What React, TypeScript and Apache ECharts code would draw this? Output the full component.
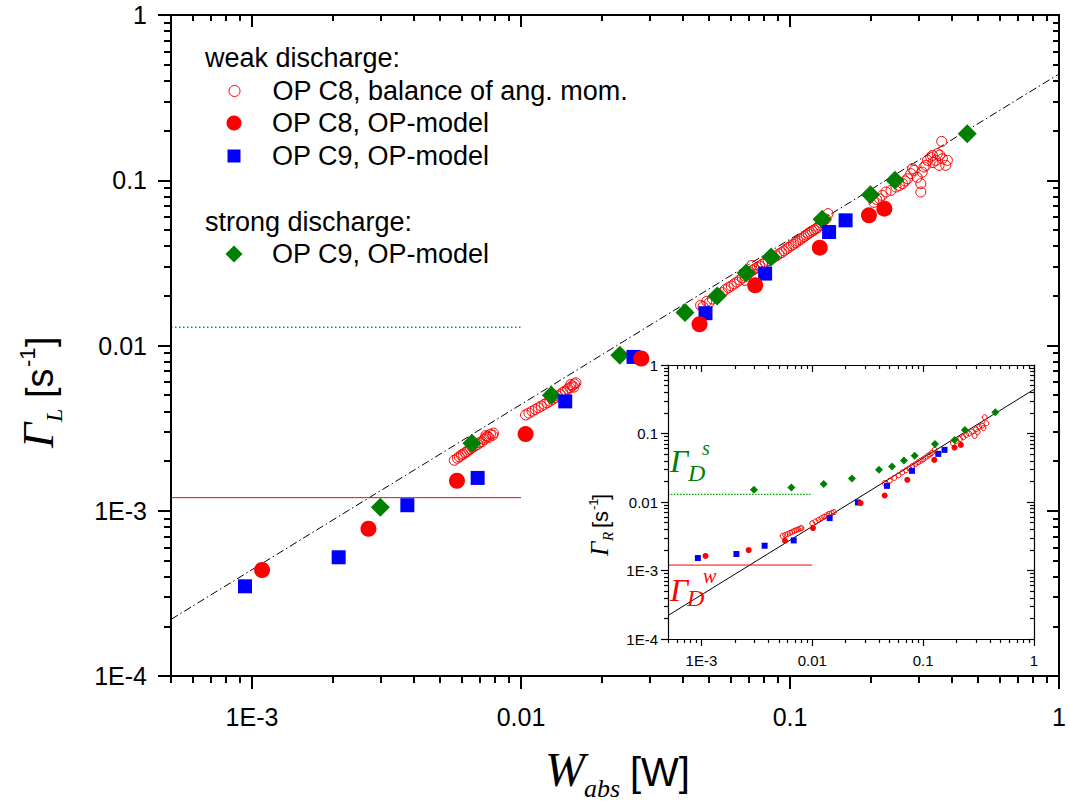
import React, { useEffect, useRef } from "react";
import * as echarts from "echarts";

const SANS = "'Liberation Sans', Arial, Helvetica, sans-serif";
const SERIF = "'Liberation Serif', 'Times New Roman', serif";

// ---------- axes ----------
const xRange = [5e-4, 1];
const yRange = [1e-4, 1];
const xMajor = [0.001, 0.01, 0.1, 1];
const xMajorLabels = ["1E-3", "0.01", "0.1", "1"];
const yMajor = [1e-4, 0.001, 0.01, 0.1, 1];
const yMajorLabels = ["1E-4", "1E-3", "0.01", "0.1", "1"];
const xMinor = [5e-4, 6e-4, 7e-4, 8e-4, 9e-4, 0.002, 0.003, 0.004, 0.005, 0.006, 0.007, 0.008, 0.009,
  0.02, 0.03, 0.04, 0.05, 0.06, 0.07, 0.08, 0.09, 0.2, 0.3, 0.4, 0.5, 0.6, 0.7, 0.8, 0.9];
const yMinor = [2e-4, 3e-4, 4e-4, 5e-4, 6e-4, 7e-4, 8e-4, 9e-4, 0.002, 0.003, 0.004, 0.005, 0.006, 0.007, 0.008, 0.009,
  0.02, 0.03, 0.04, 0.05, 0.06, 0.07, 0.08, 0.09, 0.2, 0.3, 0.4, 0.5, 0.6, 0.7, 0.8, 0.9];

// ---------- reference lines ----------
const fitLine: [number, number][] = [[5e-4, 2.2e-4], [1, 0.44]];
const gammaDStrong: [number, number][] = [[5e-4, 0.0129], [0.01, 0.0129]];
const gammaDWeak: [number, number][] = [[5e-4, 1.2e-3], [0.01, 1.2e-3]];

// ---------- main plot data (Gamma_L) ----------
const c8OpModelMain: [number, number][] = [
  [1.09e-3, 4.38e-4], [2.71e-3, 7.78e-4], [5.78e-3, 1.52e-3], [0.0104, 2.91e-3], [0.028, 8.34e-3],
  [0.0461, 0.01345], [0.0742, 0.02315], [0.129, 0.0391], [0.1965, 0.0613], [0.2242, 0.0673],
];
const c9WeakMain: [number, number][] = [
  [9.42e-4, 3.49e-4], [2.1e-3, 5.23e-4], [3.78e-3, 1.08e-3], [6.9e-3, 1.58e-3], [0.0146, 4.59e-3],
  [0.0262, 8.53e-3], [0.0485, 0.01568], [0.0808, 0.02724], [0.1397, 0.0486], [0.1609, 0.0572],
];
const c9StrongMain: [number, number][] = [
  [3.0e-3, 1.05e-3], [6.57e-3, 2.56e-3], [0.01297, 5.0e-3], [0.0233, 8.74e-3], [0.0407, 0.01583],
  [0.0536, 0.01995], [0.0687, 0.0275], [0.085, 0.0343], [0.1316, 0.058], [0.199, 0.0818],
  [0.2455, 0.0999], [0.4558, 0.1913],
];
const c8BalanceMain: [number, number][] = [
  [5.65e-3, 2.02e-3], [5.8e-3, 2.08e-3], [5.9e-3, 2.12e-3], [6.0e-3, 2.17e-3], [6.1e-3, 2.2e-3],
  [6.2e-3, 2.25e-3], [6.3e-3, 2.28e-3], [6.4e-3, 2.33e-3], [6.5e-3, 2.37e-3], [6.6e-3, 2.42e-3],
  [6.75e-3, 2.47e-3], [6.9e-3, 2.52e-3], [7.0e-3, 2.58e-3], [7.15e-3, 2.62e-3], [7.3e-3, 2.7e-3],
  [7.4e-3, 2.76e-3], [7.5e-3, 2.82e-3], [7.6e-3, 2.78e-3], [7.7e-3, 2.9e-3], [7.85e-3, 2.86e-3],
  [7.9e-3, 2.95e-3], [7.4e-3, 2.85e-3],
  [0.0104, 3.8e-3], [0.0107, 3.9e-3], [0.011, 4.0e-3], [0.0113, 4.1e-3], [0.0116, 4.2e-3],
  [0.0119, 4.3e-3], [0.0122, 4.4e-3], [0.0125, 4.5e-3], [0.0128, 4.6e-3], [0.0131, 4.72e-3],
  [0.0134, 4.83e-3], [0.0137, 4.95e-3], [0.014, 5.05e-3], [0.0143, 5.2e-3], [0.0146, 5.3e-3],
  [0.0149, 5.45e-3], [0.0152, 5.55e-3], [0.0155, 5.7e-3], [0.0158, 5.85e-3], [0.0153, 5.8e-3],
  [0.0157, 5.6e-3], [0.016, 5.95e-3],
  [0.0465, 0.0175], [0.0475, 0.0172], [0.049, 0.0185], [0.05, 0.0181], [0.0515, 0.0191],
  [0.053, 0.0196], [0.0545, 0.0203], [0.056, 0.0209], [0.0575, 0.0218], [0.059, 0.0224],
  [0.0605, 0.0229], [0.062, 0.0236], [0.0635, 0.0242], [0.065, 0.0249], [0.0665, 0.0257],
  [0.068, 0.0264], [0.0695, 0.0271], [0.071, 0.0278], [0.0725, 0.0285], [0.074, 0.0291],
  [0.0755, 0.0297], [0.077, 0.0303], [0.079, 0.0311], [0.081, 0.0318], [0.083, 0.0326],
  [0.085, 0.0332], [0.087, 0.0341], [0.089, 0.0349], [0.091, 0.0358], [0.093, 0.0365],
  [0.095, 0.0374], [0.097, 0.0384], [0.099, 0.0393], [0.101, 0.0401], [0.103, 0.041],
  [0.105, 0.0419], [0.107, 0.0428], [0.109, 0.0437], [0.111, 0.0447], [0.113, 0.0456],
  [0.115, 0.0466], [0.117, 0.0476], [0.119, 0.0484], [0.121, 0.0492], [0.123, 0.0501],
  [0.125, 0.0509], [0.127, 0.0518], [0.129, 0.0535], [0.131, 0.0551], [0.133, 0.0569],
  [0.136, 0.0582], [0.1385, 0.0628], [0.0745, 0.0268], [0.068, 0.0248], [0.072, 0.0305],
  [0.205, 0.0735], [0.21, 0.0765], [0.2149, 0.0774], [0.22, 0.081], [0.2274, 0.0849],
  [0.2373, 0.0869], [0.2476, 0.091], [0.255, 0.093], [0.2621, 0.0954], [0.2735, 0.1022],
  [0.2813, 0.1096], [0.2893, 0.1148], [0.2854, 0.1175], [0.3063, 0.0954], [0.3063, 0.0849],
  [0.3149, 0.1202], [0.3243, 0.132], [0.3383, 0.1414], [0.3479, 0.132], [0.3579, 0.1231],
  [0.3684, 0.135], [0.3789, 0.1231], [0.3845, 0.132], [0.3662, 0.1718], [0.3335, 0.1381],
  [0.353, 0.1448], [0.3197, 0.1231], [0.297, 0.104], [0.268, 0.099], [0.31, 0.112],
  [0.34, 0.128], [0.36, 0.142],
];

// ---------- inset data (Gamma_R) ----------
const c8OpModelInset: [number, number][] = [
  [1.09e-3, 1.63e-3], [2.67e-3, 1.99e-3], [5.68e-3, 2.72e-3], [0.01015, 4.16e-3], [0.0273, 9.64e-3],
  [0.045, 0.01244], [0.072, 0.02107], [0.126, 0.0412], [0.192, 0.0623], [0.219, 0.0682],
];
const c9WeakInset: [number, number][] = [
  [9.3e-4, 1.52e-3], [2.07e-3, 1.74e-3], [3.72e-3, 2.3e-3], [6.8e-3, 2.75e-3], [0.01435, 5.82e-3],
  [0.0258, 9.84e-3], [0.0472, 0.01722], [0.0793, 0.0285], [0.137, 0.0504], [0.156, 0.0577],
];
const c9StrongInset: [number, number][] = [
  [2.98e-3, 0.01506], [6.48e-3, 0.01627], [0.01268, 0.01824], [0.0228, 0.022], [0.04, 0.02947],
  [0.0524, 0.0329], [0.0671, 0.0403], [0.0839, 0.0472], [0.1278, 0.0705], [0.192, 0.0807],
  [0.238, 0.1128], [0.448, 0.2044],
];
const c8BalanceInset: [number, number][] = [
  [5.4e-3, 3.2e-3], [5.7e-3, 3.3e-3], [6.0e-3, 3.4e-3], [6.3e-3, 3.55e-3], [6.6e-3, 3.65e-3],
  [6.9e-3, 3.8e-3], [7.2e-3, 3.9e-3], [7.5e-3, 4.0e-3], [7.8e-3, 4.1e-3], [8.0e-3, 4.16e-3],
  [0.01, 4.9e-3], [0.0107, 5.2e-3], [0.0114, 5.5e-3], [0.0121, 5.8e-3], [0.0128, 6.1e-3],
  [0.0135, 6.4e-3], [0.0142, 6.7e-3], [0.015, 6.95e-3], [0.0157, 7.1e-3],
  [0.045, 0.0189], [0.05, 0.0205], [0.055, 0.0225], [0.06, 0.0245], [0.065, 0.027], [0.07, 0.029],
  [0.075, 0.031], [0.08, 0.0335], [0.085, 0.0355], [0.09, 0.038], [0.095, 0.04], [0.1, 0.042],
  [0.105, 0.0445], [0.11, 0.047], [0.115, 0.0495], [0.12, 0.052], [0.127, 0.0577],
  [0.186, 0.0722], [0.2, 0.078], [0.215, 0.083], [0.23, 0.088], [0.245, 0.095], [0.26, 0.1],
  [0.275, 0.107], [0.2914, 0.0923], [0.3, 0.115], [0.32, 0.125], [0.34, 0.13], [0.359, 0.173],
  [0.372, 0.141], [0.35, 0.12], [0.31, 0.105],
];

// ---------- legend ----------
const legendLabels: Record<string, string> = {
  wC8bal: "OP C8, balance of ang. mom.",
  wC8op: "OP C8, OP-model",
  wC9op: "OP C9, OP-model",
  sC9op: "OP C9, OP-model",
};

const RED = "#ff0000";
const BLUE = "#0000ff";
const GREEN = "#008000";
const DOT_GREEN = "#00a800";

function labelFmt(values: number[], texts: string[]) {
  return (v: number) => {
    let best = 0;
    let bd = Infinity;
    values.forEach((t, i) => {
      const d = Math.abs(Math.log10(v) - Math.log10(t));
      if (d < bd) { bd = d; best = i; }
    });
    return texts[best];
  };
}

function axis(gridIndex: number, position: string, range: number[], ticks: number[], tickLen: number,
  inside: boolean, lineW: number, showLine: boolean,
  label: null | { values: number[]; texts: string[]; size: number; margin: number }) {
  return {
    type: "log",
    logBase: 10,
    gridIndex,
    position,
    min: range[0],
    max: range[1],
    axisLine: { show: showLine, onZero: false, lineStyle: { color: "#000", width: lineW } },
    axisTick: { show: true, inside, length: tickLen, customValues: ticks, lineStyle: { color: "#000", width: lineW } },
    axisLabel: label
      ? { show: true, customValues: label.values, formatter: labelFmt(label.values, label.texts), fontSize: label.size, fontFamily: SANS, color: "#000", margin: label.margin }
      : { show: false },
    splitLine: { show: false },
    minorTick: { show: false },
    z: 10,
  };
}

// text placed by its baseline
function bt(text: string, x: number, baseline: number, size: number, o: any = {}) {
  const serif = !!o.serif;
  return {
    type: "text",
    x,
    y: baseline - (serif ? 0.34 : 0.35) * size,
    z: 100,
    style: {
      text,
      fontSize: size,
      fontFamily: serif ? SERIF : SANS,
      fontStyle: o.italic ? "italic" : "normal",
      fill: o.color || "#000",
      align: "left",
      verticalAlign: "middle",
    },
  };
}

export default function App() {
  const ref = useRef<HTMLDivElement>(null);
  useEffect(() => {
    if (!ref.current) return;
    const chart = echarts.init(ref.current, null, { renderer: "svg" });

    const mainLbl = 25;
    const insetLbl = 15;

    const xAxis = [
      axis(0, "bottom", xRange, xMajor, 13, false, 2, true, { values: xMajor, texts: xMajorLabels, size: mainLbl, margin: 28 }),
      axis(0, "bottom", xRange, xMinor, 7, false, 2, false, null),
      axis(0, "top", xRange, xMajor, 12, true, 2, true, null),
      axis(0, "top", xRange, xMinor, 6, true, 2, false, null),
      axis(1, "bottom", xRange, xMajor, 7, false, 1.2, true, { values: xMajor, texts: xMajorLabels, size: insetLbl, margin: 14 }),
      axis(1, "bottom", xRange, xMinor, 4, false, 1.2, false, null),
      axis(1, "top", xRange, xMajor, 7, true, 1.2, true, null),
      axis(1, "top", xRange, xMinor, 4, true, 1.2, false, null),
    ];
    const yAxis = [
      axis(0, "left", yRange, yMajor, 13, false, 2, true, { values: yMajor, texts: yMajorLabels, size: mainLbl, margin: 24 }),
      axis(0, "left", yRange, yMinor, 7, false, 2, false, null),
      axis(0, "right", yRange, yMajor, 12, true, 2, true, null),
      axis(0, "right", yRange, yMinor, 6, true, 2, false, null),
      axis(1, "left", yRange, yMajor, 7, false, 1.2, true, { values: yMajor, texts: yMajorLabels, size: insetLbl, margin: 10 }),
      axis(1, "left", yRange, yMinor, 4, false, 1.2, false, null),
      axis(1, "right", yRange, yMajor, 7, true, 1.2, true, null),
      axis(1, "right", yRange, yMinor, 4, true, 1.2, false, null),
    ];

    const line = (data: [number, number][], ax: number, color: string, width: number, type: any, z: number) => ({
      type: "line", data, xAxisIndex: ax, yAxisIndex: ax, symbol: "none", showSymbol: false, silent: true,
      lineStyle: { color, width, type, opacity: 1 }, z,
    });
    const scatter = (name: string, data: [number, number][], ax: number, symbol: string, size: number, itemStyle: any, z: number) => ({
      name, type: "scatter", data, xAxisIndex: ax, yAxisIndex: ax, symbol, symbolSize: size,
      itemStyle: { opacity: 1, ...itemStyle }, z, silent: true,
    });
    const open = { color: "rgba(255,255,255,0)", borderColor: RED, borderWidth: 1 };

    const series = [
      line(fitLine, 0, "#000", 1, [8, 3, 1.5, 3], 2),
      line(gammaDStrong, 0, DOT_GREEN, 1.3, [1.5, 2.5], 2),
      line(gammaDWeak, 0, RED, 1, "solid", 2),
      scatter("wC8bal", c8BalanceMain, 0, "circle", 10, open, 3),
      scatter("sC9op", c9StrongMain, 0, "diamond", 19, { color: GREEN }, 4),
      scatter("wC9op", c9WeakMain, 0, "rect", 14, { color: BLUE }, 5),
      scatter("wC8op", c8OpModelMain, 0, "circle", 16, { color: RED }, 6),
      line(fitLine, 4, "#000", 1, "solid", 2),
      line(gammaDStrong, 4, DOT_GREEN, 1.2, [1.5, 1.5], 2),
      line(gammaDWeak, 4, RED, 1, "solid", 2),
      scatter("iC8bal", c8BalanceInset, 4, "circle", 5, open, 3),
      scatter("iC9s", c9StrongInset, 4, "diamond", 8, { color: GREEN }, 4),
      scatter("iC9w", c9WeakInset, 4, "rect", 6, { color: BLUE }, 5),
      scatter("iC8op", c8OpModelInset, 4, "circle", 6, { color: RED }, 6),
    ];

    const legendFont = 27;
    const mkLegend = (name: string, cy: number, s: number, extra: any = {}) => ({
      data: [name],
      orient: "horizontal",
      left: 234 - s / 2,
      top: cy - legendFont / 2,
      itemWidth: s,
      itemHeight: s,
      padding: 0,
      selectedMode: false,
      formatter: (n: string) => legendLabels[n],
      textStyle: { fontSize: legendFont, fontFamily: SANS, color: "#000", padding: [0, 0, 0, 33 - s / 2] },
      ...extra,
    });

    const legend = [
      mkLegend("wC8bal", 91, 11, { itemStyle: { borderWidth: 1, borderColor: RED, color: "rgba(255,255,255,0)" } }),
      mkLegend("wC8op", 123, 15, { itemStyle: { opacity: 1 } }),
      mkLegend("wC9op", 156, 13, { itemStyle: { opacity: 1 } }),
      mkLegend("sC9op", 254, 17, { itemStyle: { opacity: 1 } }),
    ];

    const graphic = [
      bt("weak discharge:", 205, 67, 27),
      bt("strong discharge:", 205, 231, 27),
      // x title
      bt("W", 545, 786, 48, { serif: true, italic: true }),
      bt("abs", 584, 797, 26, { serif: true, italic: true }),
      bt("[W]", 630, 786, 40),
      // y title (rotated)
      {
        type: "group", x: 53, y: 448, rotation: Math.PI / 2, z: 100,
        children: [
          bt("\u0393", 0, 0, 44, { serif: true, italic: true }),
          bt("L", 26, 9, 24, { serif: true, italic: true }),
          bt("[s", 50, 0, 38),
          bt("-1", 81, -18, 22),
          bt("]", 101, 0, 38),
        ],
      },
      // inset y title (rotated)
      {
        type: "group", x: 608, y: 556, rotation: Math.PI / 2, z: 100,
        children: [
          bt("\u0393", 0, 0, 25, { serif: true, italic: true }),
          bt("R", 15, 5, 15, { serif: true, italic: true }),
          bt("[s", 28, 0, 22),
          bt("-1", 46, -10, 13),
          bt("]", 56, 0, 22),
        ],
      },
      // inset annotations
      bt("\u0393", 670, 472, 32, { serif: true, italic: true, color: GREEN }),
      bt("D", 688, 481, 24, { serif: true, italic: true, color: GREEN }),
      bt("s", 702, 455, 20, { serif: true, italic: true, color: GREEN }),
      bt("\u0393", 670, 601, 32, { serif: true, italic: true, color: RED }),
      bt("D", 687, 606, 24, { serif: true, italic: true, color: RED }),
      bt("w", 703, 583, 20, { serif: true, italic: true, color: RED }),
    ];

    chart.setOption({
      animation: false,
      backgroundColor: "#fff",
      grid: [
        { left: 171, top: 15, right: 4, bottom: 129, containLabel: false },
        { left: 668, top: 365, width: 366, height: 274, show: true, backgroundColor: "#fff", borderWidth: 0, containLabel: false },
      ],
      xAxis,
      yAxis,
      legend,
      series,
      graphic,
    });
    return () => chart.dispose();
  }, []);

  return <div ref={ref} style={{ position: "fixed", left: 0, top: 0, width: 1069, height: 805 }} />;
}
